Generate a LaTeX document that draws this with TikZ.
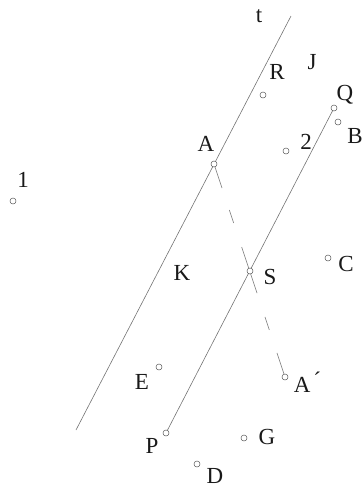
\documentclass[tikz,border=0pt]{standalone}
\usepackage{fontspec}
\setmainfont{Liberation Serif}
\usetikzlibrary{calc}
\begin{document}
\begin{tikzpicture}[x=1pt,y=-1pt,
  geo/.style={draw=black!55,line width=0.6pt},
  pt/.style={circle,draw=black!65,line width=0.5pt,fill=white,inner sep=0pt,minimum size=6pt},
  lbl/.style={font=\fontsize{23}{23}\selectfont,inner sep=0pt,text=black!90}]
\useasboundingbox (0,0) rectangle (363,491);
% line t
\coordinate (t1) at (291,16);
\coordinate (t2) at (76,430);
\draw[geo] (t1) -- (t2);
% line PQ
\coordinate (P) at (166,433);
\coordinate (Q) at (334,108);
\draw[geo] (P) -- (Q);
% A, A'
\coordinate (A) at (214,164);
\coordinate (A2) at (285,377);
\draw[geo] (A) -- ($(A)!0.113!(A2)$);
\draw[geo] ($(A)!0.216!(A2)$) -- ($(A)!0.277!(A2)$);
\draw[geo] ($(A)!0.39!(A2)$) -- ($(A)!0.606!(A2)$);
\draw[geo] ($(A)!0.718!(A2)$) -- ($(A)!0.779!(A2)$);
\draw[geo] ($(A)!0.887!(A2)$) -- (A2);
% points
\node[pt] (pA) at (A) {};
\node[pt] (pA2) at (A2) {};
\node[pt] (pP) at (P) {};
\node[pt] (pQ) at (Q) {};
\node[pt] (pS) at (250,271) {};
\node[pt] (pR) at (263,95) {};
\node[pt] (pB) at (338,122) {};
\node[pt] (p2) at (286,151) {};
\node[pt] (p1) at (13,201) {};
\node[pt] (pC) at (328,258) {};
\node[pt] (pE) at (159,367) {};
\node[pt] (pG) at (244,438) {};
\node[pt] (pD) at (197,464) {};
% labels
\node[lbl] (lt) at (259,16) {t};
\node[lbl] (lR) at (277,72) {R};
\node[lbl] (lJ) at (312,62) {J};
\node[lbl] (lQ) at (345,95) {Q};
\node[lbl] (lB) at (355,136) {B};
\node[lbl] (l2) at (306,142) {2};
\node[lbl] (lA) at (206,144) {A};
\node[lbl] (l1) at (23,180) {1};
\node[lbl] (lK) at (182,273) {K};
\node[lbl] (lS) at (270,277) {S};
\node[lbl] (lC) at (346,264) {C};
\node[lbl] (lE) at (142,382) {E};
\node[lbl] (lA2) at (307,382) {A\,\'{}};
\node[lbl] (lP) at (152,446) {P};
\node[lbl] (lG) at (267,437) {G};
\node[lbl] (lD) at (215,476) {D};
\end{tikzpicture}
\end{document}
